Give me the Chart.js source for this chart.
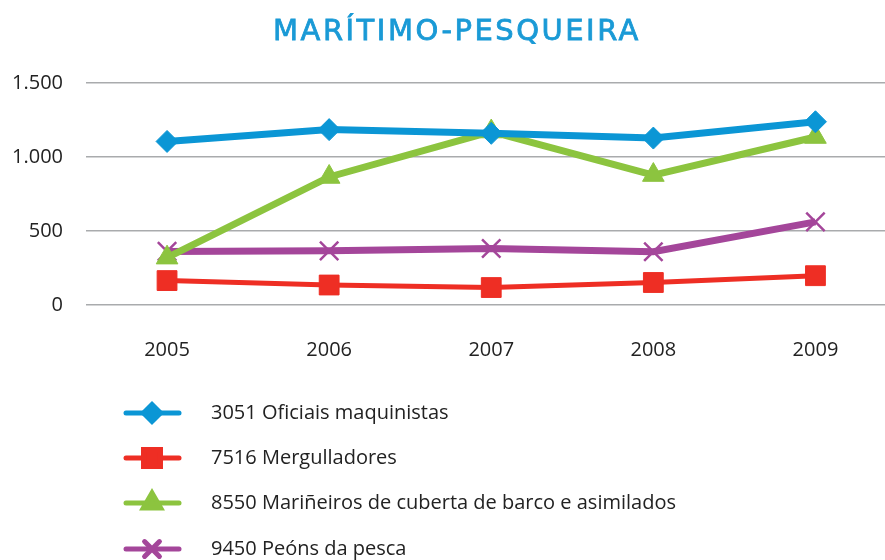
<!DOCTYPE html>
<html>
<head>
<meta charset="utf-8">
<script src="https://cdn.jsdelivr.net/npm/chart.js@4.4.1/dist/chart.umd.min.js"></script>
<style>
  html, body { margin: 0; padding: 0; background: #fff; overflow: hidden; }
  canvas { display: block; }
</style>
</head>
<body>
<canvas id="myChart" width="912" height="560"></canvas>
<script>
// ....................................   MARITIMO-PESQUEIRA   ....................................

const years = ['2005', '2006', '2007', '2008', '2009'];
const yTicks = [0, 500, 1000, 1500];

const oficiais = [1105, 1185, 1160, 1128, 1238];
const mergulladores = [165, 135, 118, 152, 198];
const marineiros = [320, 865, 1172, 878, 1135];
const peons = [362, 366, 382, 360, 562];

const seriesNames = [
    '3051 Oficiais maquinistas',
    '7516 Mergulladores',
    '8550 Mariñeiros de cuberta de barco e asimilados',
    '9450 Peóns da pesca'
];
const seriesColors = ['#0b96d5', '#ee2e24', '#8cc43f', '#a4469a'];

const FONT = '"Open Sans", Lato, sans-serif';

// title + vertical legend are painted straight on the canvas
const extrasPlugin = {
    id: 'extras',
    afterDraw(chart) {
        const c = chart.ctx;
        c.save();
        c.fillStyle = '#1a9ad6';
        c.strokeStyle = '#1a9ad6';
        c.lineWidth = 0.8;
        c.font = '29px "DejaVu Sans", sans-serif';
        c.letterSpacing = '2.5px';
        c.textAlign = 'center';
        c.textBaseline = 'alphabetic';
        c.fillText('MARÍTIMO-PESQUEIRA', 457, 40);
        c.strokeText('MARÍTIMO-PESQUEIRA', 457, 40);
        c.letterSpacing = '0px';

        const rows = [413, 458, 503, 549];
        c.textBaseline = 'middle';
        chart.data.datasets.forEach(function (ds, i) {
            const y = rows[i];
            c.strokeStyle = ds.borderColor;
            c.fillStyle = ds.borderColor;
            c.lineWidth = 5;
            c.lineCap = 'round';
            c.beginPath();
            c.moveTo(126, y);
            c.lineTo(179, y);
            c.stroke();
            Chart.helpers.drawPoint(c, {
                pointStyle: ds.pointStyle,
                radius: ds.legendRadius,
                borderWidth: ds.pointStyle === 'crossRot' ? 2.5 : 1
            }, 152, y);
            c.fillStyle = '#222';
            c.font = '20px ' + FONT;
            c.textAlign = 'left';
            c.fillText(ds.label, 211, y);
        });
        c.restore();
    }
};

function makeSet(i, values, style, radius, width, legendRadius) {
    return {
        label: seriesNames[i],
        data: values,
        borderColor: seriesColors[i],
        backgroundColor: seriesColors[i],
        pointBackgroundColor: seriesColors[i],
        pointBorderColor: seriesColors[i],
        pointStyle: style,
        pointRadius: radius,
        pointHoverRadius: radius,
        pointBorderWidth: style === 'crossRot' ? 2.5 : 1,
        borderWidth: width,
        legendRadius: legendRadius,
        tension: 0
    };
}

const data = {
    labels: years,
    datasets: [
        makeSet(0, oficiais, 'rectRot', 11, 7, 8.5),
        makeSet(1, mergulladores, 'rect', 14, 5, 12),
        makeSet(2, marineiros, 'triangle', 12.5, 7, 10),
        makeSet(3, peons, 'crossRot', 13, 7, 10.5)
    ]
};

const config = {
    type: 'line',
    data: data,
    plugins: [extrasPlugin],
    options: {
        responsive: false,
        animation: false,
        layout: { padding: { top: 83, bottom: 165, left: 0, right: 0 } },
        plugins: {
            legend: { display: false },
            title: { display: false },
            tooltip: { enabled: false }
        },
        scales: {
            x: {
                offset: true,
                grid: { display: false, drawTicks: false },
                border: { display: false },
                ticks: { color: '#222', font: { family: FONT, size: 20 }, padding: 33 }
            },
            y: {
                min: 0,
                max: 1500,
                afterFit(axis) { axis.width = 86; },
                afterBuildTicks(axis) { axis.ticks = yTicks.map(v => ({ value: v })); },
                grid: { color: '#a9abad', lineWidth: 1.5, drawTicks: false },
                border: { display: false },
                ticks: {
                    color: '#222',
                    font: { family: FONT, size: 20 },
                    padding: 23,
                    callback: v => v.toLocaleString('de-DE')
                }
            }
        }
    }
};

const myChart = new Chart(document.getElementById('myChart'), config);
</script>
</body>
</html>
